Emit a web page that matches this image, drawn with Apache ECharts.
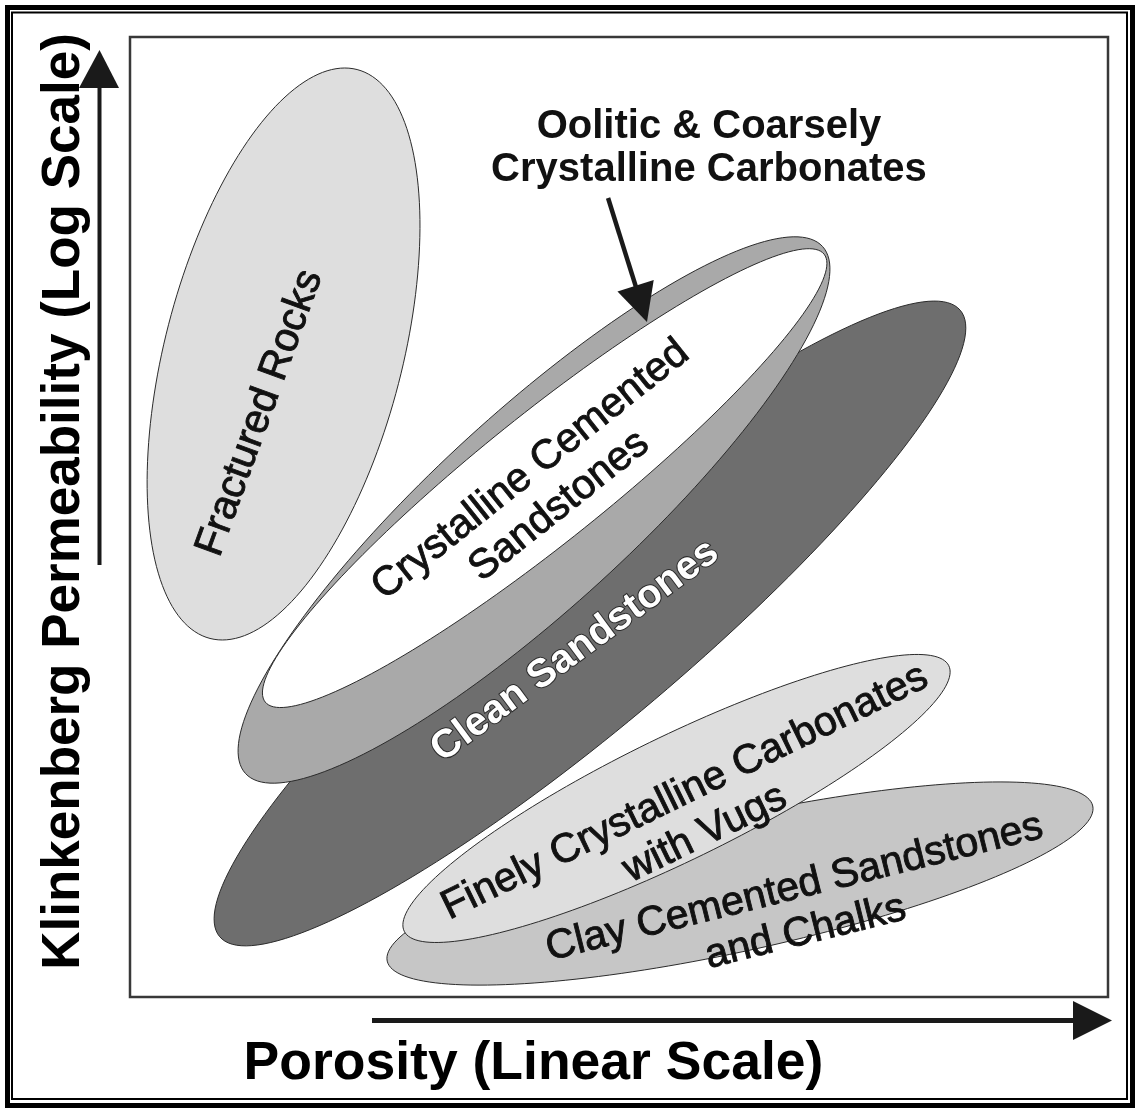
<!DOCTYPE html>
<html><head><meta charset="utf-8">
<script src="https://cdn.jsdelivr.net/npm/echarts@6/dist/echarts.min.js"></script>
<style>html,body{margin:0;padding:0;background:#fff}#c{width:1137px;height:1108px}</style>
</head><body><div id="c"></div>
<script>
// ---- Data (porosity 0-100 linear, permeability 0-100 relative log position) ----
// Rock-type regions, listed back to front
const regionNames = ['Fractured Rocks', 'Clean Sandstones', 'Oolitic & Coarsely Crystalline Carbonates',
  'Crystalline Cemented Sandstones', 'Clay Cemented Sandstones and Chalks', 'Finely Crystalline Carbonates with Vugs'];
const centerPorosity     = [15.70, 47.03, 41.31, 42.40, 62.37, 55.88];
const centerPermeability = [66.98, 38.91, 50.73, 54.05, 11.82, 20.68];
const tipPorosity        = [23.22, 84.89, 70.81, 70.97, 98.44, 83.72];
const tipPermeability    = [96.61, 71.54, 78.18, 77.38, 19.90, 34.51];
const widthRatio         = [0.404, 0.206, 0.25, 0.178, 0.186, 0.205];

// Region labels
const labelText = ['Fractured Rocks', 'Crystalline Cemented\nSandstones', 'Clean Sandstones',
  'Finely Crystalline Carbonates\nwith Vugs', 'Clay Cemented Sandstones\nand Chalks'];
const labelPorosity     = [13.29, 42.43, 45.50, 57.77, 68.51];
const labelPermeability = [60.83, 53.02, 36.04, 19.17, 9.06];
const labelAngle        = [70, 38.5, 36.5, 26, 14];

// Callout
const calloutText = 'Oolitic & Coarsely\nCrystalline Carbonates';
const calloutPorosity = [59.20];
const calloutPermeability = [88.44];
const arrowFrom = [48.88, 83.23];
const arrowTo   = [52.86, 70.31];

// ---- Styles ----
const regionFill = ['#dedede', '#6e6e6e', '#a9a9a9', '#ffffff', '#c6c6c6', '#dedede'];
const labelFill = ['#111', '#111', '#ffffff', '#111', '#111'];
const FONT = "'Liberation Sans', Arial, sans-serif";

const regionData = regionNames.map((n, i) => [centerPorosity[i], centerPermeability[i], tipPorosity[i], tipPermeability[i], widthRatio[i]]);
const labelData = labelText.map((t, i) => [labelPorosity[i], labelPermeability[i], labelAngle[i]]);

function renderEllipse(params, api) {
  const c = api.coord([api.value(0), api.value(1)]);
  const t = api.coord([api.value(2), api.value(3)]);
  const ratio = api.value(4);
  const ux = t[0] - c[0], uy = t[1] - c[1];
  const px = -uy * ratio, py = ux * ratio;
  const pts = [];
  const N = 180;
  for (let i = 0; i < N; i++) {
    const th = i / N * Math.PI * 2;
    pts.push([c[0] + Math.cos(th) * ux + Math.sin(th) * px, c[1] + Math.cos(th) * uy + Math.sin(th) * py]);
  }
  return { type: 'polygon', shape: { points: pts },
    style: { fill: regionFill[params.dataIndex], stroke: '#2b2b2b', lineWidth: 1 } };
}

function renderLabel(params, api) {
  const p = api.coord([api.value(0), api.value(1)]);
  const i = params.dataIndex;
  const isWhite = labelFill[i] === '#ffffff';
  return { type: 'text', x: p[0], y: p[1], rotation: api.value(2) * Math.PI / 180,
    style: { text: labelText[i], fill: labelFill[i], font: (isWhite ? 'bold 40px ' : '41px ') + FONT, align: 'center', verticalAlign: 'middle',
      lineHeight: 46, stroke: isWhite ? '#2a2a2a' : '#111', lineWidth: isWhite ? 2 : 0.9, strokeFirst: isWhite } };
}

function renderCallout(params, api) {
  const p = api.coord([api.value(0), api.value(1)]);
  return { type: 'text', x: p[0], y: p[1],
    style: { text: calloutText, fill: '#111', font: 'bold 40px ' + FONT, align: 'center', verticalAlign: 'middle', lineHeight: 43 } };
}

function renderArrow(params, api) {
  const a = api.coord([api.value(0), api.value(1)]);
  const b = api.coord([api.value(2), api.value(3)]);
  const dx = b[0] - a[0], dy = b[1] - a[1];
  const L = Math.hypot(dx, dy);
  const ux = dx / L, uy = dy / L;
  const hl = 38, hw = 19;
  const base = [b[0] - ux * hl, b[1] - uy * hl];
  return { type: 'group', children: [
    { type: 'line', shape: { x1: a[0], y1: a[1], x2: base[0] + ux * 4, y2: base[1] + uy * 4 }, style: { stroke: '#1a1a1a', lineWidth: 4.5 } },
    { type: 'polygon', shape: { points: [b, [base[0] - uy * hw, base[1] + ux * hw], [base[0] + uy * hw, base[1] - ux * hw]] }, style: { fill: '#1a1a1a' } }
  ] };
}

const chart = echarts.init(document.getElementById('c'), null, { renderer: 'canvas' });
chart.setOption({
  animation: false,
  backgroundColor: '#ffffff',
  grid: { left: 130, top: 37, width: 978, height: 960, show: true, borderColor: '#383838', borderWidth: 2.5, backgroundColor: 'transparent' },
  xAxis: { type: 'value', min: 0, max: 100, show: false },
  yAxis: { type: 'value', min: 0, max: 100, show: false },
  graphic: [
    { type: 'rect', shape: { x: 7.5, y: 7.5, width: 1125, height: 1098 }, style: { fill: 'none', stroke: '#000', lineWidth: 5 } },
    { type: 'rect', shape: { x: 12, y: 12.5, width: 1115, height: 1086.5 }, style: { fill: 'none', stroke: '#000', lineWidth: 2 } },
    { type: 'line', shape: { x1: 99.5, y1: 565, x2: 99.5, y2: 86 }, style: { stroke: '#1a1a1a', lineWidth: 4 } },
    { type: 'polygon', shape: { points: [[79, 88], [119, 88], [99.5, 50]] }, style: { fill: '#1a1a1a' } },
    { type: 'line', shape: { x1: 372, y1: 1020.5, x2: 1076, y2: 1020.5 }, style: { stroke: '#1a1a1a', lineWidth: 5 } },
    { type: 'polygon', shape: { points: [[1073, 1001], [1073, 1040], [1112, 1020.5]] }, style: { fill: '#1a1a1a' } },
    { type: 'text', x: 533.5, y: 1064, style: { text: 'Porosity (Linear Scale)', font: 'bold 53.5px ' + FONT, fill: '#000', align: 'center', verticalAlign: 'middle' } },
    { type: 'text', x: 64, y: 501.5, rotation: Math.PI / 2, style: { text: 'Klinkenberg Permeability (Log Scale)', font: 'bold 53px ' + FONT, fill: '#000', align: 'center', verticalAlign: 'middle' } }
  ],
  series: [
    { type: 'custom', name: 'regions', renderItem: renderEllipse, data: regionData, z: 2 },
    { type: 'custom', name: 'labels', renderItem: renderLabel, data: labelData, z: 3 },
    { type: 'custom', name: 'callout', renderItem: renderCallout, data: [[calloutPorosity[0], calloutPermeability[0]]], z: 4 },
    { type: 'custom', name: 'arrow', renderItem: renderArrow, data: [[arrowFrom[0], arrowFrom[1], arrowTo[0], arrowTo[1]]], z: 4 }
  ]
});
</script></body></html>
